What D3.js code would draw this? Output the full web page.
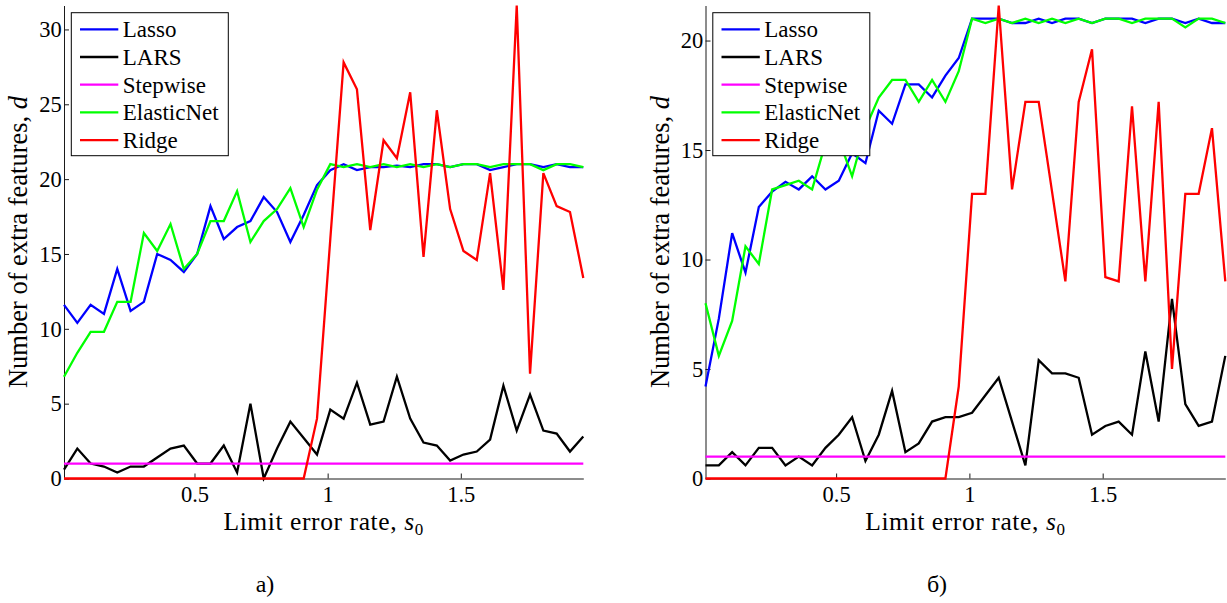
<!DOCTYPE html>
<html><head><meta charset="utf-8">
<script src="https://cdn.jsdelivr.net/npm/d3@7"></script>
<style>
body{margin:0;background:#fff}
svg{display:block}
text{font-family:"Liberation Serif","Times New Roman",serif;fill:#000}
</style>
</head><body>
<svg id="c" width="1227" height="603"></svg>
<script>
// ---- data ----
const s0 = [0.01,0.06,0.11,0.16,0.21,0.26,0.31,0.36,0.41,0.46,
            0.51,0.56,0.61,0.66,0.71,0.76,0.81,0.86,0.91,0.96,
            1.01,1.06,1.11,1.16,1.21,1.26,1.31,1.36,1.41,1.46,
            1.51,1.56,1.61,1.66,1.71,1.76,1.81,1.86,1.91,1.96];

const seriesNames = ["Lasso","LARS","Stepwise","ElasticNet","Ridge"];
const seriesColors = ["#0000ff","#000000","#ff00ff","#00ff00","#ff0000"];

// panel а)
const lassoA = [11.6,10.4,11.6,11.0,14.0,11.2,11.8,15.0,14.6,13.8,
                15.0,18.2,16.0,16.8,17.2,18.8,17.8,15.8,17.6,19.6,
                20.6,21.0,20.6,20.8,20.8,20.9,20.8,21.0,21.0,20.8,
                21.0,21.0,20.6,20.8,21.0,21.0,20.8,21.0,20.8,20.8];
const larsA = [0.6,2.0,1.0,0.8,0.4,0.8,0.8,1.4,2.0,2.2,
               1.0,1.0,2.2,0.4,5.0,0.0,2.0,3.8,2.7,1.6,
               4.6,4.0,6.4,3.6,3.8,6.8,4.0,2.4,2.2,1.2,
               1.6,1.8,2.6,6.2,3.2,5.6,3.2,3.0,1.8,2.8];
const stepwiseA = [1,1,1,1,1,1,1,1,1,1,1,1,1,1,1,1,1,1,1,1,
                   1,1,1,1,1,1,1,1,1,1,1,1,1,1,1,1,1,1,1,1];
const elasticA = [6.8,8.4,9.8,9.8,11.8,11.8,16.4,15.2,17.0,14.0,
                  15.0,17.2,17.2,19.2,15.8,17.2,18.0,19.4,16.8,19.3,
                  21.0,20.8,21.0,20.8,21.0,20.8,21.0,20.8,21.0,20.8,
                  21.0,21.0,20.8,21.0,21.0,21.0,20.6,21.0,21.0,20.8];
const ridgeA = [0,0,0,0,0,0,0,0,0,0,0,0,0,0,0,0,0,0,0,4.0,
                16.0,27.8,26.0,16.6,22.6,21.4,25.8,14.8,24.6,18.0,
                15.2,14.6,20.4,12.6,31.6,7.0,20.4,18.2,17.8,13.4];

// panel б)
const lassoB = [4.2,7.3,11.2,9.4,12.4,13.1,13.55,13.2,13.8,13.2,
                13.6,14.85,14.4,16.8,16.2,18.0,18.0,17.4,18.4,19.2,
                21.0,21.0,21.0,20.8,20.8,21.0,20.8,21.0,21.0,20.8,
                21.0,21.0,21.0,20.8,21.0,21.0,20.8,21.0,20.8,20.8];
const larsB = [0.6,0.6,1.2,0.6,1.4,1.4,0.6,1.0,0.6,1.4,
               2.0,2.8,0.8,2.0,4.0,1.2,1.6,2.6,2.8,2.8,
               3.0,3.8,4.6,2.6,0.6,5.4,4.8,4.8,4.6,2.0,
               2.4,2.6,2.0,5.8,2.6,8.2,3.4,2.4,2.6,5.6];
const stepwiseB = [1,1,1,1,1,1,1,1,1,1,1,1,1,1,1,1,1,1,1,1,
                   1,1,1,1,1,1,1,1,1,1,1,1,1,1,1,1,1,1,1,1];
const elasticB = [8.0,5.6,7.2,10.6,9.8,13.2,13.4,13.6,13.2,15.3,
                  15.5,13.8,16.0,17.4,18.2,18.2,17.2,18.2,17.2,18.6,
                  21.0,20.8,21.0,20.8,21.0,20.8,21.0,20.8,21.0,20.8,
                  21.0,21.0,20.8,21.0,21.0,21.0,20.6,21.0,21.0,20.8];
const ridgeB = [0,0,0,0,0,0,0,0,0,0,0,0,0,0,0,0,0,0,0,4.2,
                13.0,13.0,21.6,13.2,17.2,17.2,13.1,9.0,17.2,19.6,
                9.2,9.0,17.0,9.0,17.2,5.0,13.0,13.0,16.0,9.0];

const xTicks = [0.5, 1, 1.5];
const xTickLabels = ["0.5", "1", "1.5"];
const yTicksA = [0, 5, 10, 15, 20, 25, 30];
const yTicksB = [0, 5, 10, 15, 20];
const xLabel = "Limit error rate, ";
const yLabel = "Number of extra features, ";
const panelLabels = ["а)", "б)"];

// ---- drawing ----
const svg = d3.select("#c");
const yBottom = 478.5, yTop = 5.5;

function drawPanel(p, idx) {
  const g = svg.append("g");
  const x = d3.scaleLinear().domain([s0[0], s0[s0.length-1]]).range([p.x0, p.x1]);
  const y = d3.scaleLinear().domain([0, p.ymax]).range([yBottom, yTop]);

  const clipId = "clip" + idx;
  svg.append("clipPath").attr("id", clipId).append("rect")
    .attr("x", p.x0 - 2).attr("y", yTop - 3).attr("width", p.x1 - p.x0 + 4).attr("height", yBottom - yTop + 6);

  // axes
  const xa = g.append("g").attr("transform", `translate(0,${yBottom})`)
    .call(d3.axisBottom(x).tickValues(xTicks).tickFormat((d,i) => xTickLabels[i])
      .tickSizeInner(-5).tickSizeOuter(0).tickPadding(8));
  const ya = g.append("g").attr("transform", `translate(${p.x0},0)`)
    .call(d3.axisLeft(y).tickValues(p.yTicks).tickFormat(d3.format("d"))
      .tickSizeInner(-5).tickSizeOuter(0).tickPadding(2.3));
  [xa, ya].forEach(a => {
    a.select(".domain").attr("stroke", "#1a1a1a").attr("stroke-width", 1);
    a.selectAll(".tick line").attr("stroke", "#1a1a1a").attr("stroke-width", 1);
    a.selectAll("text").style("font-family", '"Liberation Serif", serif').style("font-size", "22.5px").attr("fill", "#000");
  });

  // lines
  const line = d3.line().x((d, i) => x(s0[i])).y(d => y(d));
  const lg = g.append("g").attr("clip-path", `url(#${clipId})`);
  p.series.forEach((vals, k) => {
    lg.append("path").datum(vals)
      .attr("d", line)
      .attr("fill", "none")
      .attr("stroke", seriesColors[k])
      .attr("stroke-width", 2.3)
      .attr("stroke-linejoin", "miter");
  });

  // legend
  const lx = p.x0 + 7.3, ly = 12.7;
  const leg = g.append("g");
  leg.append("rect").attr("x", lx).attr("y", ly).attr("width", 157).attr("height", 143)
    .attr("fill", "#fff").attr("stroke", "#000").attr("stroke-width", 1);
  seriesNames.forEach((n, k) => {
    const ry = 29.3 + k * 27.7;
    leg.append("line").attr("x1", p.x0 + 16).attr("x2", p.x0 + 54.3)
      .attr("y1", ry).attr("y2", ry)
      .attr("stroke", seriesColors[k]).attr("stroke-width", 2.3);
    leg.append("text").attr("x", p.x0 + 58.8).attr("y", ry + 8)
      .style("font-size", "23px").text(n);
  });

  // axis labels
  const xl = g.append("text").attr("x", (p.x0 + p.x1) / 2).attr("y", 530)
    .attr("text-anchor", "middle").style("font-size", "25.5px").style("letter-spacing", "0.6px");
  xl.append("tspan").text(xLabel);
  xl.append("tspan").style("font-style", "italic").text("s");
  xl.append("tspan").attr("dy", 5).style("font-size", "17px").text("0");

  const yl = g.append("text")
    .attr("transform", `translate(${p.yLabelX},${(yTop + yBottom) / 2}) rotate(-90)`)
    .attr("text-anchor", "middle").style("font-size", "26.5px");
  yl.append("tspan").text(yLabel);
  yl.append("tspan").style("font-style", "italic").text("d");

  // panel caption
  g.append("text").attr("x", p.capX).attr("y", 592).attr("text-anchor", "middle")
    .style("font-size", "24px").text(panelLabels[idx]);
}

drawPanel({x0: 64, x1: 583.3, ymax: 31.6, yTicks: yTicksA, yLabelX: 27, capX: 265,
           series: [lassoA, larsA, stepwiseA, elasticA, ridgeA]}, 0);
drawPanel({x0: 705.5, x1: 1225.3, ymax: 21.6, yTicks: yTicksB, yLabelX: 668.5, capX: 937,
           series: [lassoB, larsB, stepwiseB, elasticB, ridgeB]}, 1);
</script>
</body></html>
